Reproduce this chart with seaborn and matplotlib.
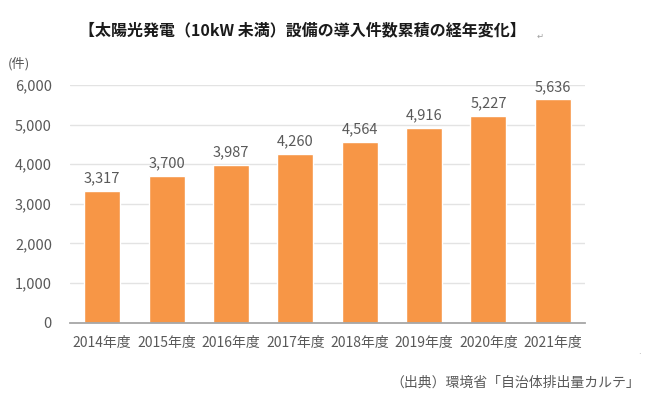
import numpy as np
import pandas as pd
import matplotlib
matplotlib.use("Agg")
import matplotlib.pyplot as plt
import seaborn as sns

# Data
years = ['2014年度', '2015年度', '2016年度', '2017年度', '2018年度', '2019年度', '2020年度', '2021年度']
counts = [3317, 3700, 3987, 4260, 4564, 4916, 5227, 5636]
yticks = [0, 1000, 2000, 3000, 4000, 5000, 6000]

df = pd.DataFrame({'year': years, 'count': counts})

sns.set_theme(style='white')
plt.rcParams['font.family'] = ['Noto Sans CJK JP', 'DejaVu Sans']

text_color = '#595959'
bar_color = '#F79646'

fig = plt.figure(figsize=(6.5, 4), dpi=100)
# plot area: x 70..585 px, y 85..322 px
ax = fig.add_axes([70 / 650, 1 - 322.5 / 400, 515 / 650, 237.5 / 400])

sns.barplot(data=df, x='year', y='count', color=bar_color, width=0.56,
            saturation=1, ax=ax, zorder=3)

ax.set_xlim(-0.5, len(years) - 0.5)
ax.set_ylim(0, 6000)
ax.set_yticks(yticks)
ax.set_yticklabels([f'{v:,}' for v in yticks])
ax.yaxis.grid(True, color='#E3E3E3', linewidth=1, zorder=0)
ax.set_xlabel('')
ax.set_ylabel('')

for s in ['top', 'right', 'left']:
    ax.spines[s].set_visible(False)
ax.spines['bottom'].set_color('#A6A6A6')
ax.spines['bottom'].set_linewidth(1.3)
ax.spines['bottom'].set_zorder(4)
ax.tick_params(axis='both', length=0, colors=text_color)
ax.tick_params(axis='x', pad=10, labelsize=10)
ax.tick_params(axis='y', pad=13, labelsize=10.5)

# Value labels above the bars
for i, v in enumerate(counts):
    ax.annotate(f'{v:,}', (i, v), xytext=(0, 4), textcoords='offset points',
                ha='center', va='bottom', fontsize=10.5, color=text_color)

fig.text(302 / 650, 1 - 30 / 400, '【太陽光発電（10kW 未満）設備の導入件数累積の経年変化】',
         ha='center', va='center', fontsize=11.5, fontweight='bold', color='#1a1a1a')
fig.text(537 / 650, 1 - 36 / 400, '↵', ha='left', va='center', fontsize=6, color='#A0A0A0')
fig.text(637 / 650, 1 - 355 / 400, '·', ha='left', va='center', fontsize=6, color='#A0A0A0')
fig.text(8 / 650, 1 - 64 / 400, '(件)', ha='left', va='center', fontsize=9.5, color=text_color)
fig.text(640 / 650, 1 - 383 / 400, '（出典）環境省「自治体排出量カルテ」', ha='right', va='center',
         fontsize=10, color=text_color)

fig.savefig('out.png', dpi=100, facecolor='white')
